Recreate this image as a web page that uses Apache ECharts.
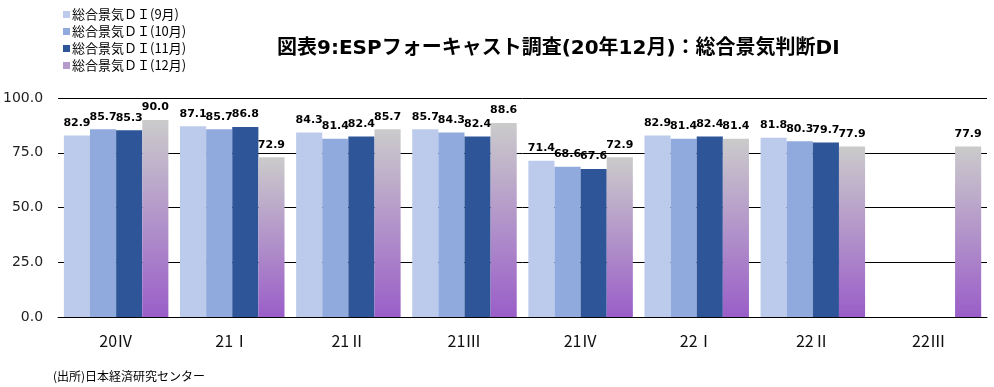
<!DOCTYPE html>
<html><head><meta charset="utf-8">
<script src="https://cdn.jsdelivr.net/npm/echarts@6/dist/echarts.min.js"></script>
<style>html,body{margin:0;padding:0;background:#fff}#c{width:994px;height:387px}</style>
</head><body><div id="c"></div>
<script>
const categories = ['20Ⅳ','21Ⅰ','21Ⅱ','21Ⅲ','21Ⅳ','22Ⅰ','22Ⅱ','22Ⅲ'];
const seriesNames = ['総合景気ＤＩ(9月)','総合景気ＤＩ(10月)','総合景気ＤＩ(11月)','総合景気ＤＩ(12月)'];
const sep = [82.9, 87.1, 84.3, 85.7, 71.4, 82.9, 81.8, null];
const oct = [85.7, 85.7, 81.4, 84.3, 68.6, 81.4, 80.3, null];
const nov = [85.3, 86.8, 82.4, 82.4, 67.6, 82.4, 79.7, null];
const dec = [90.0, 72.9, 85.7, 88.6, 72.9, 81.4, 77.9, 77.9];
const yTicks = [0, 25, 50, 75, 100];

const chart = echarts.init(document.getElementById('c'));
const font = '"DejaVu Sans", "Noto Sans CJK JP", sans-serif';
const colors = [
  '#bccbeb',
  '#90aade',
  '#2e5597',
  new echarts.graphic.LinearGradient(0,0,0,1,[{offset:0,color:'#cbcbcb'},{offset:1,color:'#9a5ec8'}])
];
const legendColors = ['#bccbeb','#90aade','#2e5597','#b59acb'];
const data = [sep, oct, nov, dec];
chart.setOption({
  animation: false,
  textStyle: {fontFamily: font},
  title: {
    text: '図表9:ESPフォーキャスト調査(20年12月)：総合景気判断DI',
    left: 272, top: 34,
    textStyle: {fontFamily: font, fontSize: 20, fontWeight: 'bold', color: '#000'}
  },
  legend: {
    orient: 'vertical', left: 58, top: 3,
    itemWidth: 7, itemHeight: 7, itemGap: 4, icon: 'rect',
    textStyle: {fontFamily: '"Noto Sans CJK JP", sans-serif', fontSize: 13, color: '#000', padding: [0,0,0,-3]},
    data: seriesNames.map((n,i)=>({name:n, itemStyle:{color:legendColors[i]}}))
  },
  grid: {left: 57, right: 7, top: 98, bottom: 70},
  xAxis: {
    type: 'category', data: categories,
    axisLine: {lineStyle: {color: '#000', width: 1}},
    axisTick: {inside: true, length: 5, lineStyle: {color: '#000'}},
    axisLabel: {fontFamily: '"Noto Sans CJK JP", sans-serif', fontSize: 16, color: '#111', margin: 16}
  },
  yAxis: {
    type: 'value', min: yTicks[0], max: yTicks[yTicks.length-1], interval: 25,
    axisLine: {show: false}, axisTick: {show: false},
    splitLine: {lineStyle: {color: '#000', width: 1}},
    axisLabel: {fontFamily: font, fontSize: 14, color: '#222', margin: 15, formatter: v => v.toFixed(1)}
  },
  series: data.map((d,i)=>({
    name: seriesNames[i], type: 'bar', data: d,
    barGap: '0%', barCategoryGap: '10%',
    itemStyle: {color: colors[i]},
    label: {show: true, position: 'top', distance: 7, fontFamily: font, fontSize: 11, fontWeight: 'bold', color: '#000',
      formatter: p => p.value == null ? '' : Number(p.value).toFixed(1)}
  })),
  graphic: [{
    type: 'text', left: 53, top: 370,
    style: {text: '(出所)日本経済研究センター', font: '12px "Noto Sans CJK JP", sans-serif', fill: '#000'}
  }]
});
</script></body></html>
